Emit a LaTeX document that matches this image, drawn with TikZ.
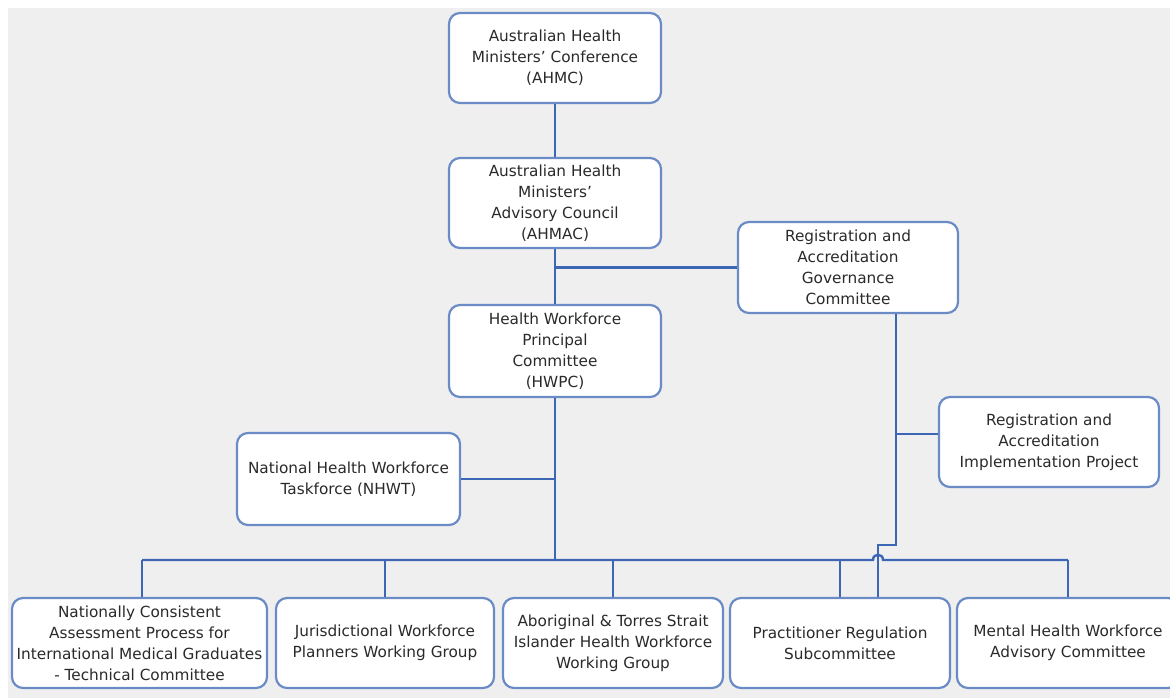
\documentclass[tikz,border=0pt]{standalone}
\usepackage{fontspec}
\setmainfont{DejaVu Sans}
\usetikzlibrary{calc}
\definecolor{bg}{HTML}{EFEFEF}
\definecolor{boxline}{HTML}{6A8BC6}
\definecolor{conn}{HTML}{3D67B5}
\definecolor{txt}{HTML}{2A2A2A}
\tikzset{
  orgbox/.style={draw=boxline, line width=2.2pt, fill=white, rounded corners=11pt,
    align=center, text=txt, font=\fontsize{15.3}{21}\selectfont, inner sep=1pt},
  link/.style={draw=conn, line width=2.4pt},
}
\begin{document}
\begin{tikzpicture}[x=1pt,y=-1pt]
\useasboundingbox (0,0) rectangle (1170,698);
\fill[bg] (8,8) rectangle (1170,698);
\begin{scope}
\clip (0,0) rectangle (1170,698);
\node[orgbox, minimum width=212pt, minimum height=90pt] (ahmc) at (555,58) {Australian Health\\Ministers' Conference\\(AHMC)};
\node[orgbox, minimum width=212pt, minimum height=90pt] (ahmac) at (555,203) {Australian Health\\Ministers'\\Advisory Council\\(AHMAC)};
\node[orgbox, minimum width=212pt, minimum height=92pt] (hwpc) at (555,351) {Health Workforce\\Principal\\Committee\\(HWPC)};
\node[orgbox, minimum width=220pt, minimum height=91pt] (ragc) at (848,267.5) {Registration and\\Accreditation\\Governance\\Committee};
\node[orgbox, minimum width=220pt, minimum height=90pt] (raip) at (1049,442) {Registration and\\Accreditation\\Implementation Project};
\node[orgbox, minimum width=223pt, minimum height=92pt] (nhwt) at (348.5,479) {National Health Workforce\\Taskforce (NHWT)};
\node[orgbox, minimum width=255pt, minimum height=90pt] (b1) at (139.5,643) {Nationally Consistent\\Assessment Process for\\International Medical Graduates\\- Technical Committee};
\node[orgbox, minimum width=218pt, minimum height=90pt] (b2) at (385,643) {Jurisdictional Workforce\\Planners Working Group};
\node[orgbox, minimum width=220pt, minimum height=90pt] (b3) at (613,643) {Aboriginal \& Torres Strait\\Islander Health Workforce\\Working Group};
\node[orgbox, minimum width=220pt, minimum height=90pt] (b4) at (840,643) {Practitioner Regulation\\Subcommittee};
\node[orgbox, minimum width=222pt, minimum height=90pt] (b5) at (1068,643) {Mental Health Workforce\\Advisory Committee};
\end{scope}
\coordinate (bus) at (0,560);
\coordinate (d1) at (142,0);
\coordinate (jog) at (896,545);
\coordinate (jog2) at (878,545);
\coordinate (hop) at (878,560);
% connectors
\draw[link] (ahmc.south) -- (ahmac.north);
\draw[link] (ahmac.south) -- (hwpc.north);
\draw[link] (ragc.west) -- (ragc.west -| ahmac.south);
\draw[link] (hwpc.south) -- (hwpc.south |- bus);
\draw[link] (nhwt.east) -- (nhwt.east -| hwpc.south);
\draw[link] (d1 |- bus) -- ($(hop)+(-5,0)$) .. controls ($(hop)+(-5,-7)$) and ($(hop)+(5,-7)$) .. ($(hop)+(5,0)$) -- (b5.north |- bus);
\draw[link] (d1 |- b1.north) -- (d1 |- bus);
\draw[link] (b2.north) -- (b2.north |- bus);
\draw[link] (b3.north) -- (b3.north |- bus);
\draw[link] (b4.north) -- (b4.north |- bus);
\draw[link] (b5.north) -- (b5.north |- bus);
\draw[link] (ragc.south -| jog) -- (jog) -- (jog2) -- (jog2 |- b4.north);
\draw[link] ([yshift=8pt]raip.west) -- ([yshift=8pt]raip.west -| jog);
\end{tikzpicture}
\end{document}
